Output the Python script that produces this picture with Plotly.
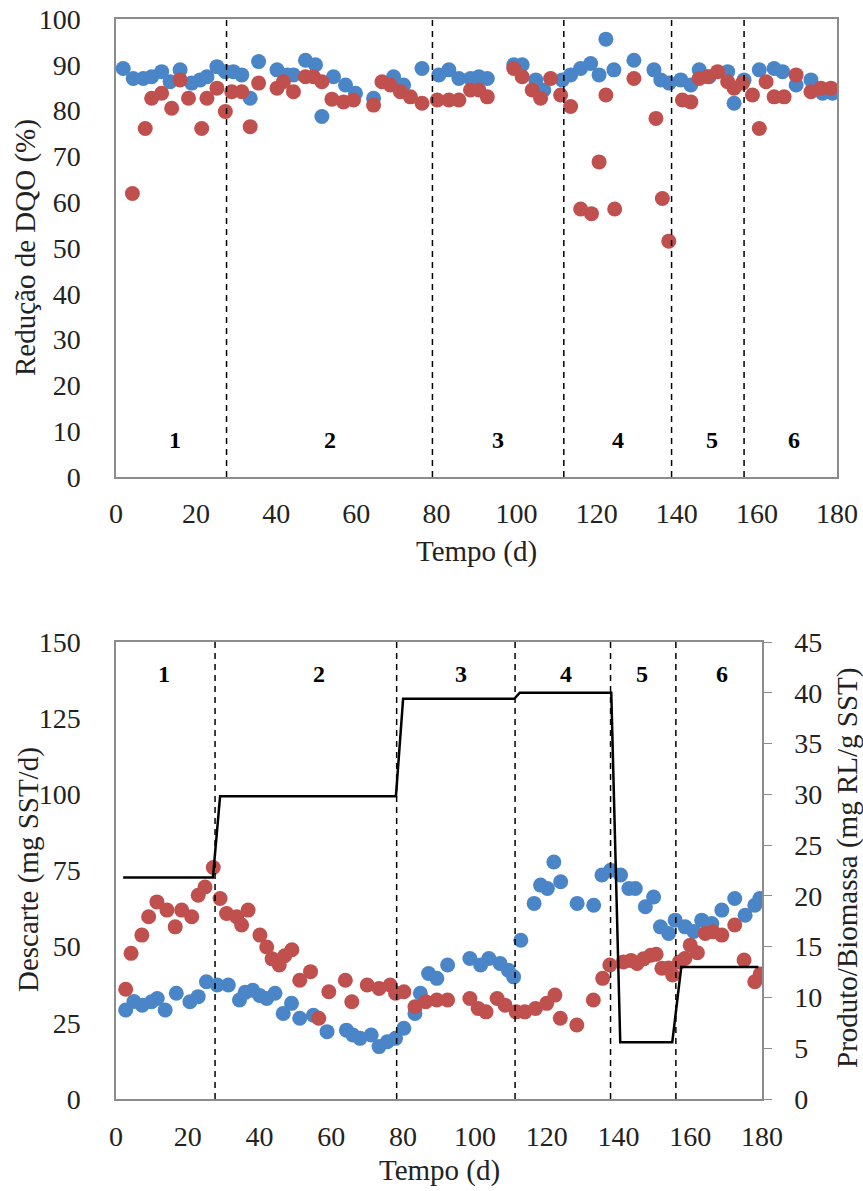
import plotly.graph_objects as go

FONT = "Liberation Serif, Times New Roman, DejaVu Serif, serif"
BLUE = "#4A86C7"
RED = "#C0504D"
GRAY = "#8C8C8C"

# ---------------- Top chart data (Redução de DQO, %) ----------------
top_blue_days = [1.8, 4.3, 6.8, 8.9, 11.4, 13.5, 16, 18.9, 21, 22.7, 25.2, 27.3, 29.3, 31.4, 33.5, 35.6,
                 40.2, 42.7, 44.3, 47.3, 49.8, 51.4, 54.3, 57.3, 59.8, 64.3, 69.3, 71.8, 76.4, 80.6,
                 83.1, 85.6, 88.5, 90.6, 92.7, 99.3, 101.4, 104.8, 106.8, 111.4, 113.5, 116, 118.5,
                 120.6, 122.3, 124.3, 129.3, 134.3, 136, 138.1, 141, 143.5, 145.6, 148.1, 152.7, 154.3,
                 156.8, 160.6, 164.3, 166.4, 169.8, 173.5, 176.4, 178.9]
top_blue_vals = [89.2, 87, 87, 87.4, 88.5, 86.3, 88.9, 86, 86.7, 87.4, 89.6, 88.5, 88.5, 87.8, 82.7, 90.7,
                 88.9, 87.8, 87.8, 91, 90, 78.7, 87.4, 85.6, 83.8, 82.7, 87.4, 85.6, 89.2, 87.8,
                 88.9, 87, 87, 87.4, 87, 90, 90, 86.7, 84.5, 86.7, 87.8, 89.2, 90.3,
                 87.8, 95.6, 88.9, 91, 88.9, 86.7, 86, 86.7, 85.6, 88.9, 87.4, 88.5, 81.6,
                 86.7, 88.9, 89.2, 88.5, 85.6, 86.7, 83.8, 83.8]

top_red_days = [4.1, 7.3, 8.9, 11.4, 13.9, 16, 18.1, 21.4, 22.7, 25.2, 27.3, 28.9, 31.4, 33.5, 35.6,
                40.2, 41.8, 44.3, 47.3, 49.3, 51.4, 53.9, 56.8, 59.3, 64.3, 66.4, 68.5, 71, 73.5, 76.4,
                80.2, 83.1, 85.6, 88.5, 90.6, 92.7, 99.3, 101.4, 103.9, 106, 108.5, 111, 113.5, 116,
                118.7, 120.6, 122.3, 124.5, 129.3, 134.8, 136.4, 138, 141.4, 143.5, 145.6, 147.7,
                150.2, 152.7, 154.3, 156.4, 158.9, 160.6, 162.3, 164.3, 166.8, 169.8, 173.5, 176, 178.5]
top_red_vals = [61.9, 76.1, 82.7, 83.8, 80.5, 86.7, 82.7, 76.1, 82.7, 84.9, 79.8, 84.1, 84.1, 76.5, 86,
                84.9, 86.3, 84.1, 87.4, 87.4, 86.3, 82.5, 81.9, 82.3, 81.2, 86.3, 85.6, 84.1, 83, 81.6,
                82.3, 82.3, 82.3, 84.5, 84.5, 83, 89.2, 87.4, 84.5, 82.7, 87, 83.4, 80.9, 58.5,
                57.5, 68.8, 83.4, 58.5, 87, 78.3, 60.8, 51.5, 82.3, 81.9, 87, 87.4,
                88.5, 86.3, 84.9, 86, 83.4, 76.1, 86.3, 83, 83, 87.8, 84.1, 84.9, 84.9]

top_phase_bounds = [27.6, 79, 111.8, 138.7, 156.8]
phase_names = ["1", "2", "3", "4", "5", "6"]
top_phase_label_days = [14.8, 53.5, 95.3, 125.3, 148.8, 169.3]
top_phase_label_y = 8.1

# ---------------- Bottom chart data ----------------
bot_blue_days = [2.7, 5, 7.3, 9.9, 11.5, 13.7, 16.8, 20.6, 22.9, 25.2, 28.2, 31.3, 34.4, 36, 38.1, 40,
                 42, 44.3, 46.6, 48.9, 51.2, 55, 58.8, 64.2, 66, 68, 71.1, 73.3, 75.6, 77.9, 80.2,
                 83.3, 84.8, 87.1, 89.4, 92.4, 98.6, 101.6, 103.9, 107, 109.3, 110.8, 112.8, 116.5,
                 118.3, 120.2, 122, 123.9, 128.5, 133.1, 135.4, 137.8, 140.6, 142.9, 144.7, 147.5,
                 149.8, 151.7, 154, 155.8, 158.6, 161, 163.2, 166, 168.8, 172.4, 175.3, 178, 179.4]
bot_blue_vals = [29.2, 32, 30.8, 31.9, 33, 29.2, 34.7, 31.9, 33.6, 38.5, 37.4, 37.4, 32.5, 35, 35.7, 34,
                 33, 34.7, 28.1, 31.4, 26.5, 27.5, 22.1, 22.6, 21, 19.9, 21, 17.2, 18.8, 19.9, 23.2,
                 28.1, 34.7, 41.2, 39.6, 44, 46.1, 44, 46.1, 44.5, 42.3, 40.1, 52.1, 64.2,
                 70.2, 69.1, 77.8, 71.3, 64.2, 63.6, 73.5, 75.1, 73.5, 69.1, 69.1, 63.1,
                 66.3, 56.5, 54.3, 58.7, 56.5, 55, 58.7, 57.6, 62, 65.8, 60.3, 63.6, 65.8]

bot_red_days = [2.7, 4.2, 7.2, 9.1, 11.4, 14.2, 16.5, 18.3, 21.1, 22.9, 24.8, 27.1, 29, 30.8, 33.6, 35,
                36.8, 40.1, 42, 43.5, 45.5, 47, 49, 51.2, 54.2, 56.5, 59.3, 63.9, 65.7, 70, 73.3, 76.4,
                77.9, 80.2, 83.3, 86.3, 89.4, 92.4, 98.6, 100.9, 103.1, 106.2, 108.4, 111.5, 113.9,
                116.9, 120, 122.3, 123.8, 128.4, 133, 135.6, 137.6, 141.4, 143.5, 145.2, 147, 149,
                150.5, 152.1, 154, 155.1, 157, 158.5, 160, 162, 164.2, 166.4, 168.8, 172.4, 175, 178, 179.5]
bot_red_vals = [36, 47.8, 53.8, 59.8, 64.7, 62, 56.5, 62, 59.8, 66.9, 69.6, 76, 65.8, 60.9, 59.8, 57.1,
                62, 53.8, 49.9, 46, 44, 47, 49, 39, 41.8, 26.5, 35.2, 39, 31.9, 37.4, 36.3, 37.4,
                34.7, 35.2, 30.3, 31.9, 32.5, 32.5, 33, 29.7, 28.6, 33, 30.8, 28.6, 28.6,
                29.7, 31.4, 34.1, 26.5, 24.3, 32.5, 39.6, 44, 45, 45.5, 44.5, 46, 47.2,
                47.5, 42.9, 43, 40.7, 45, 46.1, 50.5, 48, 54.3, 54.9, 53.8, 57.1, 45.6, 38.5, 41]

ratio_days = [2, 27, 29, 78, 80, 111, 112.5, 138, 140.5, 155, 157.5, 179]
ratio_vals = [21.8, 21.8, 29.8, 29.8, 39.4, 39.4, 40, 40, 5.6, 5.6, 13, 13]

bot_phase_bounds = [27.6, 78.2, 111.2, 137.8, 156]
bot_phase_label_days = [13.5, 56.6, 96, 125.3, 146.6, 168.8]
bot_phase_label_y = 139.6

x_ticks = list(range(0, 181, 20))
top_y_ticks = list(range(0, 101, 10))
left_y_ticks = [0, 25, 50, 75, 100, 125, 150]
right_y_ticks = list(range(0, 46, 5))

W, H = 863, 1191
# plot areas in pixels
top_box = (116, 837, 19, 477)      # x0, x1, ytop, ybottom
bot_box = (116, 762, 642, 1099)


def xdom(b):
    return [b[0] / W, b[1] / W]


def ydom(b):
    return [1 - b[3] / H, 1 - b[2] / H]


fig = go.Figure()
mk = dict(size=15, line=dict(width=0))
fig.add_trace(go.Scatter(x=top_blue_days, y=top_blue_vals, mode="markers",
                         marker=dict(color=BLUE, **mk), xaxis="x", yaxis="y"))
fig.add_trace(go.Scatter(x=top_red_days, y=top_red_vals, mode="markers",
                         marker=dict(color=RED, **mk), xaxis="x", yaxis="y"))
fig.add_trace(go.Scatter(x=bot_blue_days, y=bot_blue_vals, mode="markers",
                         marker=dict(color=BLUE, **mk), xaxis="x2", yaxis="y2"))
fig.add_trace(go.Scatter(x=bot_red_days, y=bot_red_vals, mode="markers",
                         marker=dict(color=RED, **mk), xaxis="x2", yaxis="y2"))
fig.add_trace(go.Scatter(x=ratio_days, y=ratio_vals, mode="lines",
                         line=dict(color="black", width=2.5), xaxis="x2", yaxis="y3"))

shapes = []
for d in top_phase_bounds:
    shapes.append(dict(type="line", xref="x", yref="y domain", x0=d, x1=d, y0=0, y1=1,
                       line=dict(color="black", width=1.5, dash="6px,5px"), layer="above"))
for d in bot_phase_bounds:
    shapes.append(dict(type="line", xref="x2", yref="y2 domain", x0=d, x1=d, y0=0, y1=1,
                       line=dict(color="black", width=1.5, dash="6px,5px"), layer="above"))

annotations = []
for name, d in zip(phase_names, top_phase_label_days):
    annotations.append(dict(x=d, y=top_phase_label_y, xref="x", yref="y", text="<b>%s</b>" % name,
                            showarrow=False, xanchor="center", yanchor="middle",
                            font=dict(family=FONT, size=24, color="black")))
for name, d in zip(phase_names, bot_phase_label_days):
    annotations.append(dict(x=d, y=bot_phase_label_y, xref="x2", yref="y2", text="<b>%s</b>" % name,
                            showarrow=False, xanchor="center", yanchor="middle",
                            font=dict(family=FONT, size=24, color="black")))

tfont = dict(family=FONT, size=29, color="#222")
title_specs = [
    (476, 551, "Tempo (d)", 0),
    (439, 1170, "Tempo (d)", 0),
    (26, 248, "Redução de DQO (%)", -90),
    (28, 870, "Descarte (mg SST/d)", -90),
    (847, 868, "Produto/Biomassa (mg RL/g SST)", -90),
]
for px, py, txt, ang in title_specs:
    annotations.append(dict(x=px / W, y=1 - py / H, xref="paper", yref="paper", text=txt, textangle=ang,
                            showarrow=False, xanchor="center", yanchor="middle", font=tfont))

axis_common = dict(showgrid=False, zeroline=False, showline=True, linecolor=GRAY, linewidth=1.5,
                   tickfont=dict(family=FONT, size=28, color="#222"), automargin=False)

fig.update_layout(
    width=W, height=H, margin=dict(l=0, r=0, t=0, b=0),
    paper_bgcolor="white", plot_bgcolor="white", showlegend=False,
    font=dict(family=FONT),
    xaxis=dict(domain=xdom(top_box), range=[0, 180], tickvals=x_ticks, anchor="y", mirror=True,
               ticks="", ticklabelstandoff=11, **axis_common),
    yaxis=dict(domain=ydom(top_box), range=[0, 100], tickvals=top_y_ticks, anchor="x", mirror=True,
               ticks="", ticklabelstandoff=28, **axis_common),
    xaxis2=dict(domain=xdom(bot_box), range=[0, 180], tickvals=x_ticks, anchor="y2", mirror=True,
                ticks="", ticklabelstandoff=12, **axis_common),
    yaxis2=dict(domain=ydom(bot_box), range=[0, 150], tickvals=left_y_ticks, anchor="x2", mirror=True,
                ticks="", ticklabelstandoff=28, **axis_common),
    yaxis3=dict(domain=ydom(bot_box), range=[0, 45], tickvals=right_y_ticks, anchor="x2",
                overlaying="y2", side="right", ticks="outside", ticklen=8, tickcolor=GRAY,
                ticklabelstandoff=17, **axis_common),
    shapes=shapes, annotations=annotations,
)

fig.write_html("out.html")
